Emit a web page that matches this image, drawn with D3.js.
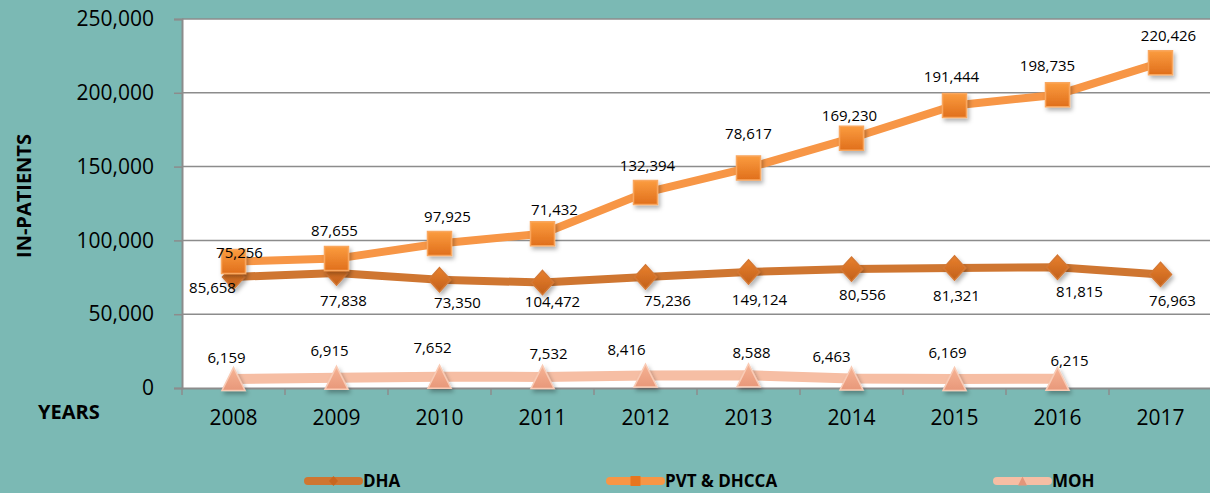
<!DOCTYPE html>
<html>
<head>
<meta charset="utf-8">
<script src="https://cdn.jsdelivr.net/npm/d3@7"></script>
<style>
  body { margin: 0; background: #7bb9b4; }
  svg { display: block; font-family: "Open Sans", sans-serif; }
</style>
</head>
<body>
<svg id="chart"></svg>
<script>
// data
const years = ["2008", "2009", "2010", "2011", "2012", "2013", "2014", "2015", "2016", "2017"];
const dhaValues = [75256, 77838, 73350, 71432, 75236, 78617, 80556, 81321, 81815, 76963];
const pvtValues = [85658, 87655, 97925, 104472, 132394, 149124, 169230, 191444, 198735, 220426];
const mohValues = [6159, 6915, 7652, 7532, 8416, 8588, 6463, 6169, 6215, null];
// data labels as printed on the chart (some are swapped in the original)
const dhaLabels = ["85,658", "77,838", "73,350", "104,472", "75,236", "149,124", "80,556", "81,321", "81,815", "76,963"];
const pvtLabels = ["75,256", "87,655", "97,925", "71,432", "132,394", "78,617", "169,230", "191,444", "198,735", "220,426"];
const mohLabels = ["6,159", "6,915", "7,652", "7,532", "8,416", "8,588", "6,463", "6,169", "6,215", null];
const yTicks = [0, 50000, 100000, 150000, 200000, 250000];

// label nudges (dx, dy) from each point
const dhaNudge = [[-21, 10], [7, 27], [18, 22], [10, 18], [22, 23], [11, 27], [11, 25], [2, 27], [22, 24], [12, 26]];
const pvtNudge = [[6, -10], [-2, -29], [8, -27], [12, -25], [2, -28], [0, -35], [-2, -23], [-3, -29], [-10, -30], [8, -28]];
const mohNudge = [[-7, -22], [-7, -28], [-7, -30], [6, -24], [-19, -27], [3, -23], [-20, -22], [-7, -27], [12, -19]];

const svgWidth = 1210, svgHeight = 493;
const plotLeft = 182, plotRight = 1212, plotTop = 19, plotBottom = 388;

const svg = d3.select("#chart")
    .attr("width", svgWidth)
    .attr("height", svgHeight);

svg.append("rect")
    .attr("width", svgWidth).attr("height", svgHeight)
    .attr("fill", "#7bb9b4");

const defs = svg.append("defs");
const shadow = defs.append("filter").attr("id", "shadow")
    .attr("x", "-50%").attr("y", "-50%").attr("width", "200%").attr("height", "200%");
shadow.append("feDropShadow")
    .attr("dx", 2).attr("dy", 3).attr("stdDeviation", 2)
    .attr("flood-color", "#000").attr("flood-opacity", 0.3);

function grad(id, c1, c2) {
    const g = defs.append("linearGradient").attr("id", id)
        .attr("x1", 0).attr("y1", 0).attr("x2", 0).attr("y2", 1);
    g.append("stop").attr("offset", "0%").attr("stop-color", c1);
    g.append("stop").attr("offset", "100%").attr("stop-color", c2);
}
grad("gDha", "#e8802d", "#c2601b");
grad("gPvt", "#fb9c3f", "#e06f1c");
grad("gMoh", "#f6b394", "#e8987a");

const x = d3.scaleBand().domain(years).range([plotLeft, plotRight]);
const y = d3.scaleLinear().domain([0, 250000]).range([plotBottom, plotTop]);
const cx = d => x(d) + x.bandwidth() / 2;

// plot area
svg.append("rect")
    .attr("x", plotLeft).attr("y", plotTop)
    .attr("width", plotRight - plotLeft).attr("height", plotBottom - plotTop)
    .attr("fill", "#fff");

// gridlines
svg.append("g")
    .selectAll("line")
    .data(yTicks.slice(1))
    .join("line")
    .attr("x1", plotLeft).attr("x2", plotRight)
    .attr("y1", d => y(d)).attr("y2", d => y(d))
    .attr("stroke", "#8c8c8c")
    .attr("stroke-width", 1.5);

// y axis
const yAxis = svg.append("g")
    .attr("transform", "translate(" + plotLeft + ",0)")
    .call(d3.axisLeft(y).tickValues(yTicks).tickSize(8).tickPadding(20).tickFormat(d3.format(",")));
yAxis.select(".domain").attr("stroke", "#8c8c8c").attr("stroke-width", 2);
yAxis.selectAll(".tick line").attr("stroke", "#8c8c8c").attr("stroke-width", 1.5);
yAxis.selectAll(".tick text")
    .attr("fill", "#000")
    .style("font-size", "21px")
    .style("font-family", "Open Sans");

// x axis
const xAxis = svg.append("g")
    .attr("transform", "translate(0," + plotBottom + ")")
    .call(d3.axisBottom(x).tickSize(0).tickPadding(22));
xAxis.select(".domain").attr("stroke", "#8c8c8c").attr("stroke-width", 2);
xAxis.selectAll(".tick text")
    .attr("fill", "#000")
    .style("font-size", "21px")
    .style("font-family", "Open Sans");
xAxis.append("g")
    .selectAll("line")
    .data(years)
    .join("line")
    .attr("x1", d => x(d)).attr("x2", d => x(d))
    .attr("y1", 0).attr("y2", 7)
    .attr("stroke", "#8c8c8c")
    .attr("stroke-width", 1.5);

// axis titles
svg.append("text")
    .attr("transform", "translate(23,196) rotate(-90)")
    .attr("text-anchor", "middle")
    .attr("dominant-baseline", "central")
    .style("font-size", "20px")
    .style("font-weight", "bold")
    .text("IN-PATIENTS");

svg.append("text")
    .attr("x", 38).attr("y", 419)
    .style("font-size", "20px")
    .style("font-weight", "bold")
    .text("YEARS");

const series = [
    { name: "MOH", values: mohValues, labels: mohLabels, nudge: mohNudge, color: "#f6bea4", width: 10, shape: "triangle", fill: "url(#gMoh)", edge: "#f9cbb5" },
    { name: "DHA", values: dhaValues, labels: dhaLabels, nudge: dhaNudge, color: "#cf7631", width: 8, shape: "diamond", fill: "url(#gDha)", edge: "#d47834" },
    { name: "PVT & DHCCA", values: pvtValues, labels: pvtLabels, nudge: pvtNudge, color: "#f79646", width: 8, shape: "square", fill: "url(#gPvt)", edge: "#f9a75f" }
];

function markerPath(shape, s) {
    if (shape === "square") return "M" + (-s) + "," + (-s) + "h" + 2 * s + "v" + 2 * s + "h" + (-2 * s) + "Z";
    if (shape === "diamond") return "M0," + (-s * 1.1) + "L" + s + ",0L0," + (s * 1.1) + "L" + (-s) + ",0Z";
    return "M0," + (-s) + "L" + s + "," + s + "L" + (-s) + "," + s + "Z";
}
const markerSize = { square: 12, diamond: 11, triangle: 11.5 };

series.forEach(function(s) {
    const pts = years.map((yr, i) => ({ yr: yr, v: s.values[i], label: s.labels[i], nudge: s.nudge[i] }))
        .filter(d => d.v != null);

    const line = d3.line()
        .x(d => cx(d.yr))
        .y(d => y(d.v));

    svg.append("path")
        .datum(pts)
        .attr("fill", "none")
        .attr("stroke", s.color)
        .attr("stroke-width", s.width)
        .attr("stroke-linejoin", "round")
        .attr("d", line);

    svg.append("g")
        .selectAll("path")
        .data(pts)
        .join("path")
        .attr("transform", d => "translate(" + cx(d.yr) + "," + y(d.v) + ")")
        .attr("d", markerPath(s.shape, markerSize[s.shape]))
        .attr("fill", s.fill)
        .attr("stroke", s.edge)
        .attr("stroke-width", 1.5)
        .attr("filter", "url(#shadow)");

    s.pts = pts;
});

// data labels on top
series.forEach(function(s) {
    svg.append("g")
        .selectAll("text")
        .data(s.pts)
        .join("text")
        .attr("x", d => cx(d.yr) + d.nudge[0])
        .attr("y", d => y(d.v) + d.nudge[1])
        .attr("text-anchor", "middle")
        .attr("dominant-baseline", "central")
        .style("font-size", "15px")
        .attr("fill", "#000")
        .text(d => d.label);
});

// legend
const legendItems = [
    { name: "DHA", x: 308, color: "#cf7631", shape: "diamond", fill: "#c8661f", size: 4.5 },
    { name: "PVT & DHCCA", x: 610, color: "#f79646", shape: "square", fill: "#e8761f", size: 5 },
    { name: "MOH", x: 997, color: "#f6bea4", shape: "triangle", fill: "#e3967a", size: 4.5 }
];
const legend = svg.append("g").selectAll("g")
    .data(legendItems)
    .join("g")
    .attr("transform", d => "translate(" + d.x + ",481)");
legend.append("line")
    .attr("x1", 0).attr("x2", 51)
    .attr("stroke", d => d.color)
    .attr("stroke-width", 8)
    .attr("stroke-linecap", "round");
legend.append("path")
    .attr("transform", "translate(25.5,0)")
    .attr("d", d => markerPath(d.shape, d.size))
    .attr("fill", d => d.fill);
legend.append("text")
    .attr("x", 55)
    .attr("y", 6)
    .style("font-size", "17px")
    .style("font-weight", "bold")
    .text(d => d.name);
</script>
</body>
</html>
